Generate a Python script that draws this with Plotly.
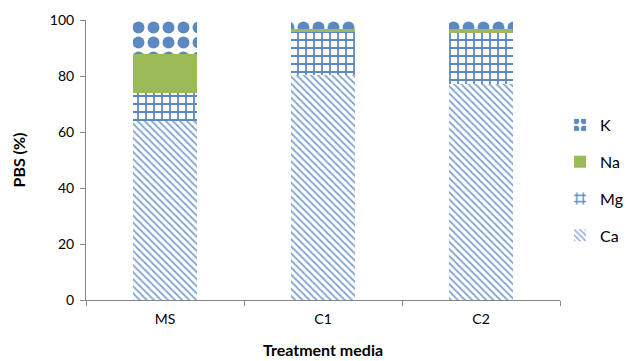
import plotly.graph_objects as go

# Percentage base saturation by exchangeable cation for each treatment medium
media = ["MS", "C1", "C2"]
ca = [64.0, 80.5, 77.0]
mg = [10.0, 15.2, 18.5]
na = [14.0, 1.2, 1.2]
k = [12.0, 3.1, 3.3]

blue = "#4A7CBB"
green = "#9BBB59"
font_family = "Lato, 'Open Sans', sans-serif"

# name, values, pattern (None -> solid fill), legend rank (top to bottom)
series = [
    ("Ca", ca, dict(shape="\\", fgcolor=blue, bgcolor="white", fgopacity=0.7, size=5, solidity=0.35), 4),
    ("Mg", mg, dict(shape="+", fgcolor=blue, bgcolor="white", fgopacity=0.9, size=8, solidity=0.4), 3),
    ("Na", na, None, 2),
    ("K", k, dict(shape=".", fgcolor=blue, bgcolor="white", fgopacity=0.9, size=15, solidity=0.5), 1),
]

fig = go.Figure()
for name, vals, pattern, rank in series:
    marker = dict(color=green if pattern is None else "white", line=dict(width=0))
    if pattern is not None:
        marker["pattern"] = pattern
    fig.add_trace(go.Bar(name=name, x=media, y=vals, marker=marker,
                         legendgroup=name, legendrank=rank, width=0.41))

fig.update_layout(
    barmode="stack",
    width=630, height=361,
    margin=dict(l=86, r=58, t=20, b=61),
    paper_bgcolor="white", plot_bgcolor="white",
    font=dict(family=font_family, size=14, color="#000000"),
    showlegend=True,
    legend=dict(xref="container", yref="container", x=0.889, y=0.5,
                xanchor="left", yanchor="middle",
                traceorder="grouped", tracegroupgap=13,
                font=dict(size=16), itemwidth=30, bgcolor="rgba(0,0,0,0)"),
)
fig.update_xaxes(
    showline=True, linecolor="#868686", linewidth=1,
    ticks="outside", tickson="boundaries", ticklen=5, tickcolor="#868686",
    ticklabelstandoff=6, showgrid=False, automargin=False,
    title=dict(text="<b>Treatment media</b>", font=dict(size=16), standoff=19),
)
fig.update_yaxes(
    range=[0, 100], dtick=20, showline=True, linecolor="#868686", linewidth=1,
    ticks="outside", ticklen=5, tickcolor="#868686", showgrid=False, zeroline=False,
    ticklabelstandoff=3, automargin=False,
    title=dict(text="<b>PBS (%)</b>", font=dict(size=16), standoff=20),
)

fig.write_html("out.html")
